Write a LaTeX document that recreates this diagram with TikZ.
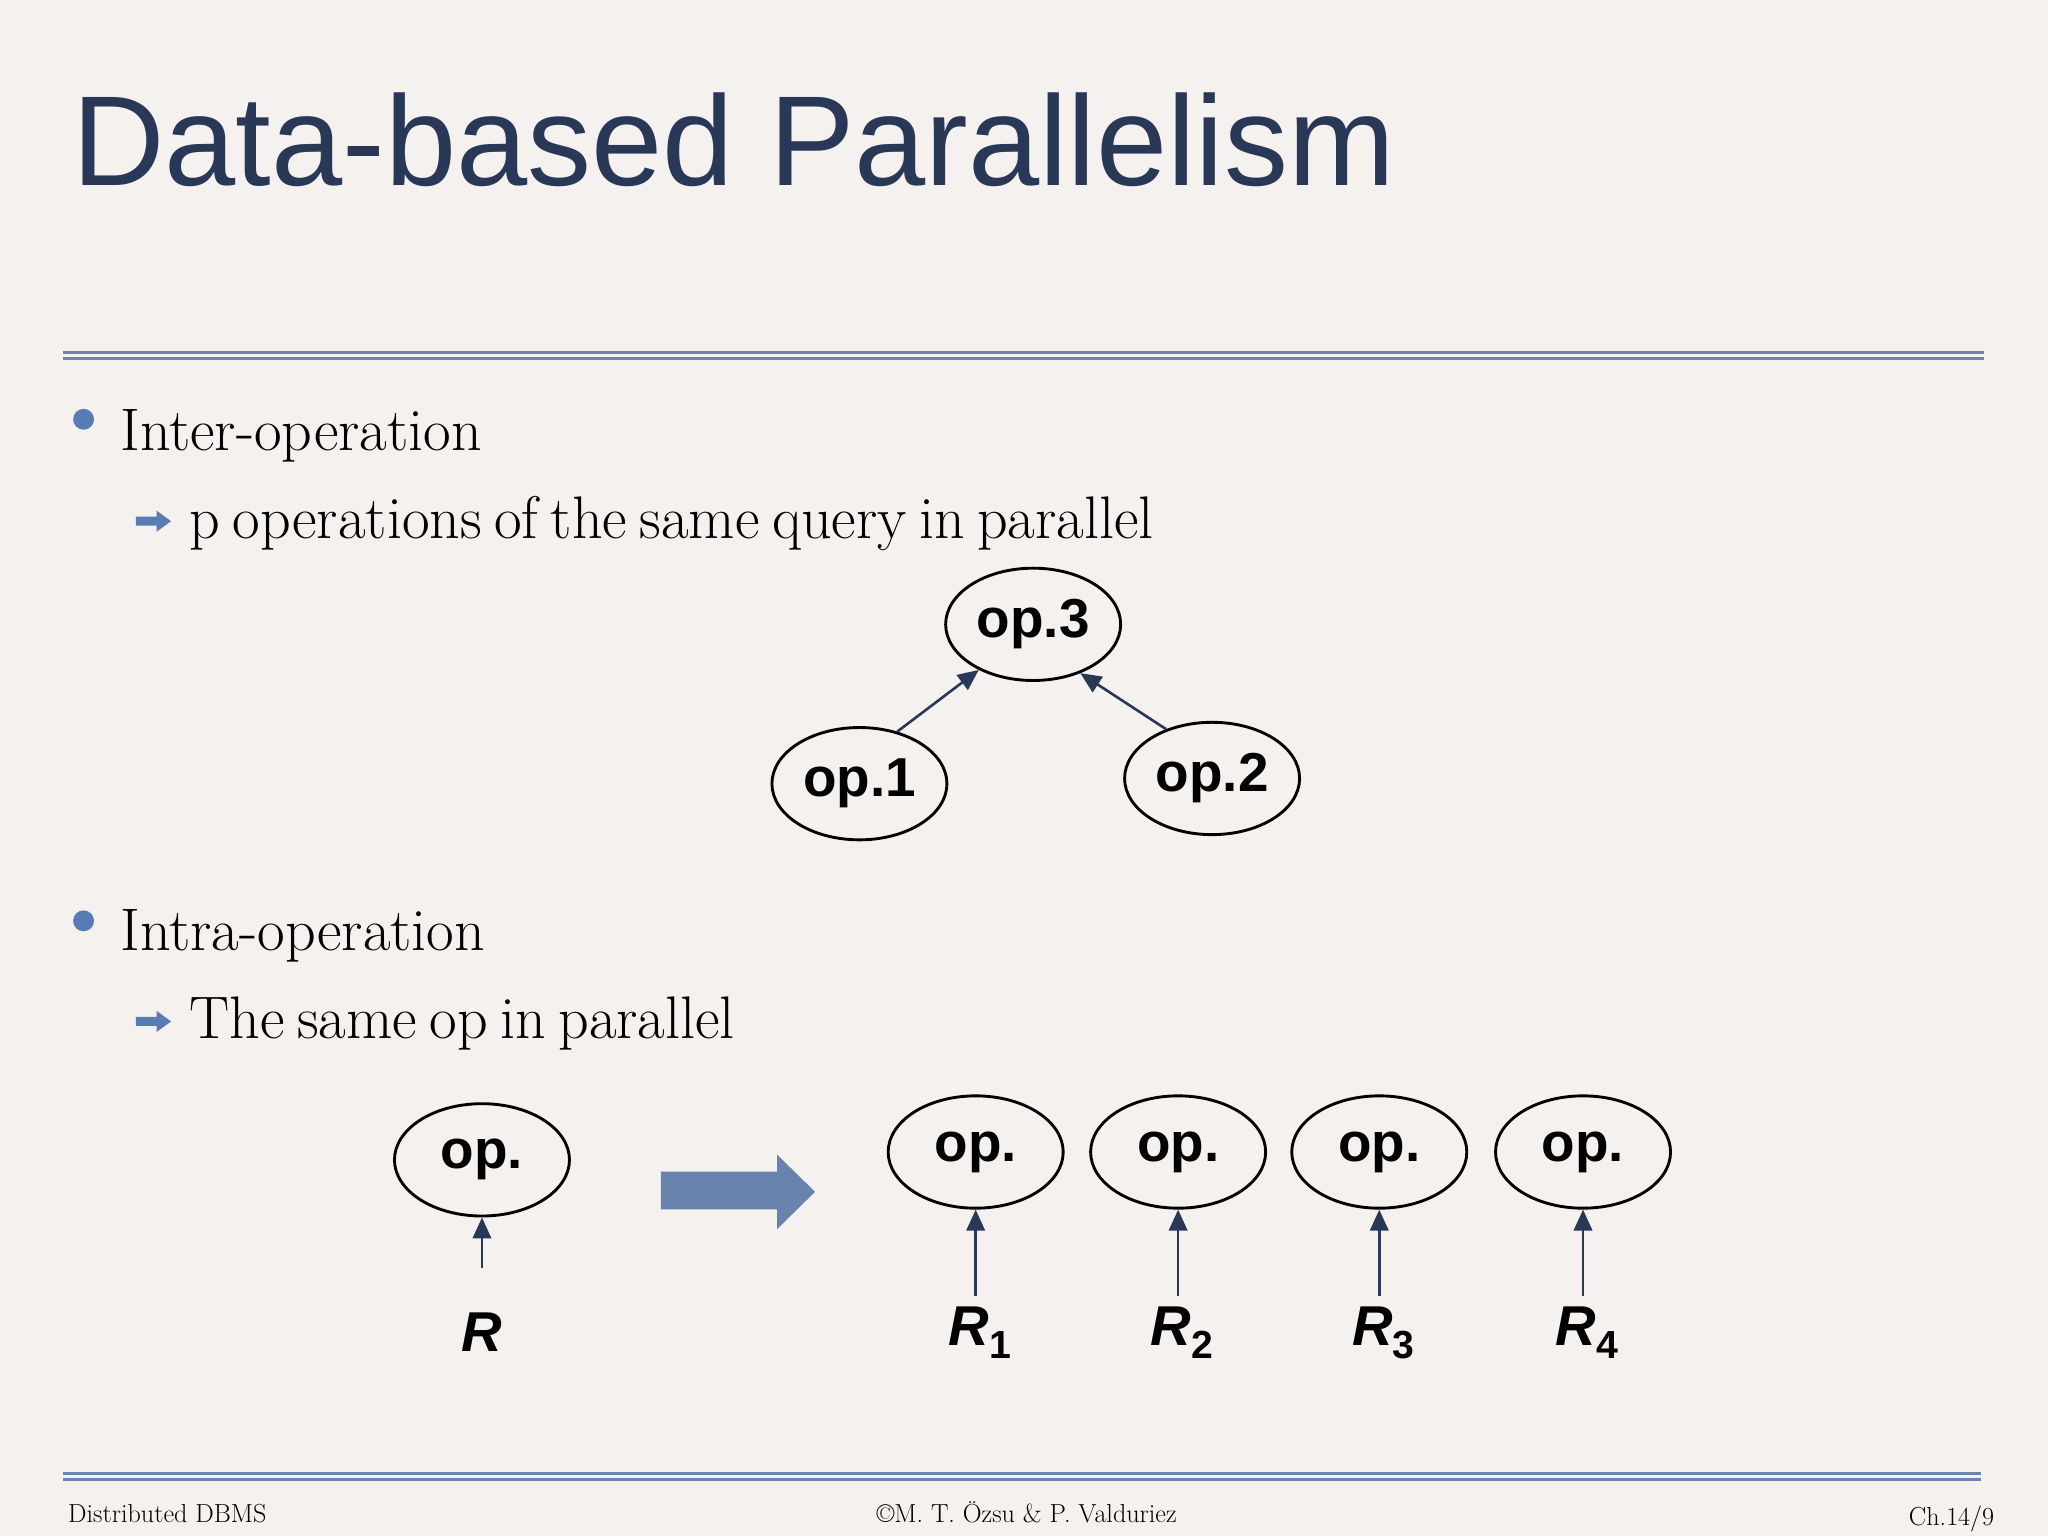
\documentclass[tikz,border=0pt]{standalone}
\usepackage{fontspec}
\newfontfamily\arialfont{Liberation Sans}
\usetikzlibrary{shapes.geometric,arrows.meta}
\definecolor{slidebg}{RGB}{244,241,239}
\definecolor{titleblue}{RGB}{40,56,86}
\definecolor{rulecol}{RGB}{108,132,176}
\definecolor{dotblue}{RGB}{88,124,180}
\definecolor{navy}{RGB}{40,56,86}
\definecolor{bigarrow}{RGB}{104,132,174}
\newcommand{\bodyfont}{\fontsize{46}{50}\selectfont\spaceskip=9.5pt plus 2pt minus 2pt\relax}
\newcommand{\relsub}[1]{\raisebox{-10pt}{\fontsize{30}{30}\selectfont\upshape #1}}
\begin{document}
\begin{tikzpicture}[x=1pt,y=-1pt,line join=round,>={Triangle[length=16pt,width=14pt]}]
	\tikzset{opnode/.style={ellipse,draw,line width=2.2pt,minimum width=134pt,minimum height=86pt,inner sep=0pt,font=\arialfont\bfseries\fontsize{42}{44}\selectfont},
		relnode/.style={inner sep=0pt,font=\arialfont\bfseries\itshape\fontsize{43}{44}\selectfont},
		bodytext/.style={anchor=base west,inner sep=0pt,font=\bodyfont},
		foottext/.style={inner sep=0pt,font=\fontsize{20}{22}\selectfont},
		link/.style={->,draw=navy,fill=navy,line width=2pt}}
	% background and frame
	\fill[slidebg] (0,0) rectangle (1568,1176);
	\useasboundingbox (0,0) rectangle (1568,1176);
	\node[anchor=base west,inner sep=0pt,text=titleblue,font=\arialfont\fontsize{98}{100}\selectfont] (title) at (55,142) {Data-based Parallelism};
	\draw[rulecol,line width=2pt] (48,270)--(1519,270) (48,274.5)--(1519,274.5);
	\draw[rulecol,line width=2pt] (48,1128)--(1517,1128) (48,1132.5)--(1517,1132.5);
	% bullets
	\fill[dotblue] (64,321) circle (8) (64,705) circle (8);
	\foreach \y in {399,782}
		\fill[dotblue] (104,\y-3.5)--(120,\y-3.5)--(120,\y-8)--(131,\y)--(120,\y+8)--(120,\y+3.5)--(104,\y+3.5)--cycle;
	\node[bodytext] (inter) at (92,345) {Inter-operation};
	\node[bodytext] (interdesc) at (145,412) {p operations of the same query in parallel};
	\node[bodytext] (intra) at (92,728) {Intra-operation};
	\node[bodytext] (intradesc) at (145,795) {The same op in parallel};
	% inter-operation tree
	\node[opnode] (op3) at (791,478) {op.3};
	\node[opnode] (op1) at (658,600) {op.1};
	\node[opnode] (op2) at (928,596) {op.2};
	\draw[link] (op1.54)--(op3.220);
	\draw[link] (op2.133)--(op3.-46);
	% intra-operation
	\node[opnode] (op) at (369,888) {op.};
	\node[relnode] (R) at (369,1020) {R};
	\draw[link,shorten <=34pt] (R.north)--(op.south);
	\fill[bigarrow] (506,897)--(595,897)--(595,884)--(624,912.5)--(595,941)--(595,926)--(506,926)--cycle;
	\foreach \i/\x in {1/747,2/902,3/1056,4/1212}{
		\node[opnode] (op\i) at (\x,882) {op.};
		\node[relnode,anchor=base west] (R\i) at (\x-21,1030) {R\relsub{\i}};
		\draw[link,shorten <=8pt] (op\i.south |- R\i.north)--(op\i.south);
	}
	% footer
	\node[foottext,anchor=base west] (left) at (52,1166) {Distributed DBMS};
	\node[foottext,anchor=base] (mid) at (786,1166) {\textcopyright M. T. Özsu \& P. Valduriez};
	\node[foottext,anchor=base east] (right) at (1527,1168) {Ch.14/9};
\end{tikzpicture}
\end{document}
